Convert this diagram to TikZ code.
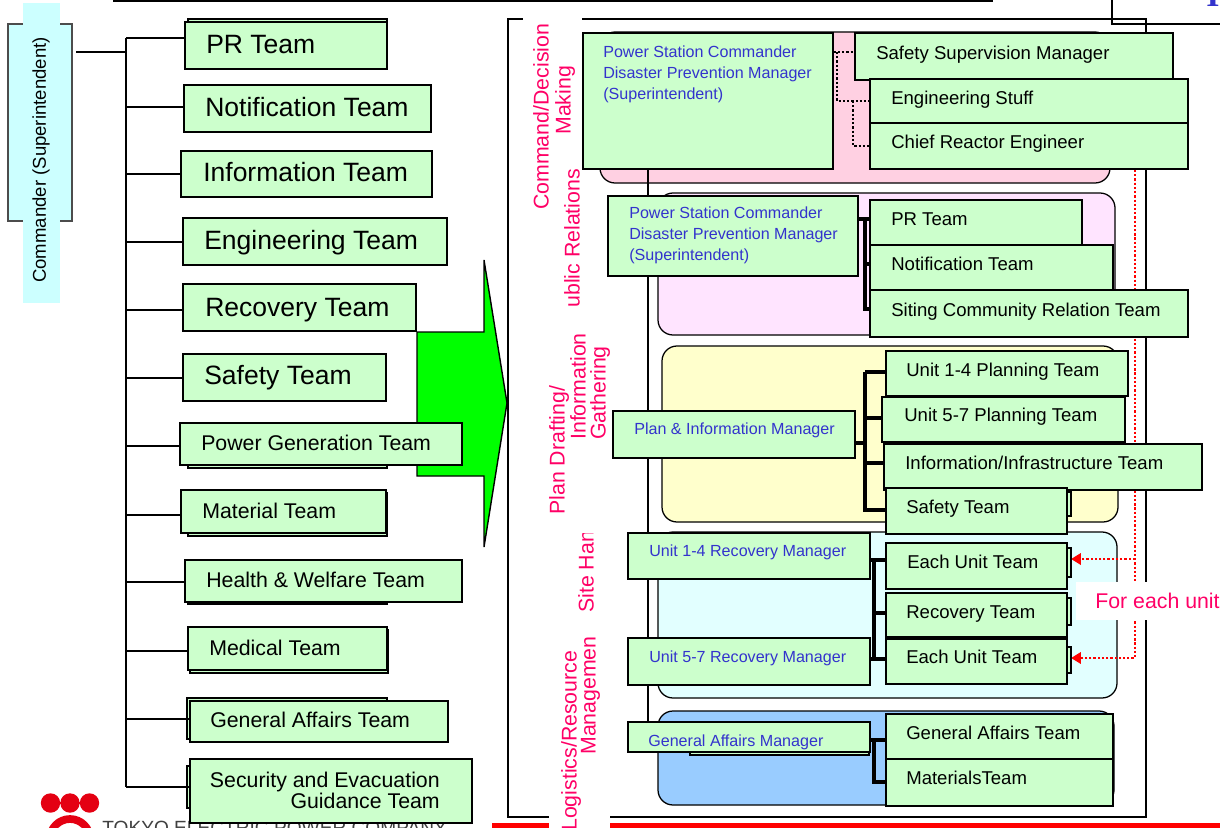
\documentclass[tikz,border=0pt]{standalone}
\usepackage{fontspec}
\setmainfont{Liberation Sans}
\newfontfamily\headfont{Liberation Serif}
\usetikzlibrary{arrows.meta}

\definecolor{teamgreen}{RGB}{204,255,204}
\definecolor{cmdcyan}{RGB}{204,255,255}
\definecolor{mgrblue}{RGB}{51,51,204}
\definecolor{labelpink}{RGB}{255,0,102}
\definecolor{arrowgreen}{RGB}{0,255,0}
\definecolor{regpink}{RGB}{255,208,226}
\definecolor{reglilac}{RGB}{255,228,255}
\definecolor{regyellow}{RGB}{255,255,204}
\definecolor{regcyan}{RGB}{226,255,255}
\definecolor{regblue}{RGB}{153,204,255}
\definecolor{tepcored}{RGB}{228,0,18}

% box from (x1,y1) to (x2,y2), its text starting at (tx,ty)
\newcommand\teambox[9]{%
  \node[team, minimum width={(#5-#3)*0.025cm}, minimum height={(#6-#4)*0.025cm}]
    (#2) at ({(#3+#5)/2},{(#4+#6)/2}) {};
  \node[#1] (#2-t) at (#7,#8) {#9};}

\begin{document}
\begin{tikzpicture}[x=0.025cm, y=-0.025cm,
    team/.style={draw, fill=teamgreen, line width=1.1pt, inner sep=0pt},
    backbox/.style={draw, fill=teamgreen, line width=1.1pt},
    bigtx/.style={inner sep=0pt, anchor=west, text height=13.5pt, text depth=0pt, font=\fontsize{18.85}{22}\selectfont},
    smalltx/.style={inner sep=0pt, anchor=west, text height=10.85pt, text depth=0pt, font=\fontsize{15.15}{18}\selectfont},
    righttx/.style={inner sep=0pt, anchor=west, text height=9.45pt, text depth=0pt, font=\fontsize{13.2}{16}\selectfont},
    mgrtx/.style={inner sep=0pt, anchor=west, text height=8.2pt, text depth=0pt, text=mgrblue, font=\fontsize{11.45}{14.8}\selectfont},
    mgrlines/.style={inner sep=0pt, anchor=north west, align=left, text=mgrblue, font=\fontsize{11.45}{14.8}\selectfont},
    grouplabel/.style={inner sep=0pt, anchor=west, rotate=90, text height=10.85pt, text depth=0pt, text=labelpink, font=\fontsize{15.15}{18}\selectfont},
    tree/.style={line width=1pt},
    bus/.style={line width=2.4pt},
    region/.style={draw, line width=0.9pt, rounded corners=0.375cm},
    dotlink/.style={line width=2pt, dash pattern=on 1.6pt off 1.4pt},
    redlink/.style={draw=red, line width=2pt, dash pattern=on 1.6pt off 1.4pt, -{Triangle[length=7pt, width=8pt]}}]

  \useasboundingbox (0,0) rectangle (1220,827);
  \clip (0,0) rectangle (1220,827);

  % page furniture
  \draw[line width=2.5pt] (113,0) -- (993,0);
  \draw[line width=1pt] (1112,-5) |- (1225,24);
  \node[anchor=base west, inner sep=0pt, text=mgrblue, font=\headfont\bfseries\fontsize{24}{24}\selectfont] (titlecut) at (1206,7) {I};
  \fill[tepcored] (50.5,803) circle (9.7) (70,803) circle (9.7) (89.5,803) circle (9.7);
  \draw[tepcored, line width=5.5pt] (70,839) circle (20);
  \node[anchor=base west, inner sep=0pt, text=black!75, font=\fontsize{13.6}{16}\selectfont] (tepco) at (102,834) {TOKYO ELECTRIC POWER COMPANY};

  % commander
  \node[draw=black!70, fill=cmdcyan, line width=0.8pt, inner sep=0pt, minimum width=1.6cm, minimum height=4.925cm] (cmd) at (40,122.5) {};
  \fill[cmdcyan] (23,3) rectangle (60,303);
  \node[rotate=90, inner sep=0pt, font=\fontsize{13.2}{16}\selectfont] (cmd-t) at (41,160) {Commander (Superintendent)};

  % arrow to the right-hand chart
  \draw[line width=1pt, fill=arrowgreen] (417,332) -- (484,332) -- (484,260) -- (507,403)
    -- (484,547) -- (484,476) -- (417,476) -- cycle;

  % teams on the left
  \draw[backbox] (188,19) rectangle (387,66);
  \teambox{bigtx}{prteam}{185}{22}{387}{69}{206}{44}{PR Team}
  \teambox{bigtx}{notif}{184}{85}{431}{132}{205}{107.5}{Notification Team}
  \teambox{bigtx}{info}{181}{151}{432}{197}{203}{172.5}{Information Team}
  \teambox{bigtx}{eng}{183}{218}{447}{265}{204}{240.5}{Engineering Team}
  \teambox{bigtx}{recov}{183}{284}{416}{331}{205}{307}{Recovery Team}
  \teambox{bigtx}{safety}{183}{354}{386}{401}{204}{375.5}{Safety Team}
  \draw[backbox] (188,426) rectangle (387,468);
  \teambox{smalltx}{powgen}{180}{423}{462}{465}{201}{443}{Power Generation Team}
  \draw[backbox] (188,493) rectangle (387,536);
  \teambox{smalltx}{material}{181}{490}{386}{533}{202}{510.5}{Material Team}
  \draw[backbox] (188,563) rectangle (387,604);
  \teambox{smalltx}{health}{185}{560}{462}{602}{206}{579.5}{Health \& Welfare Team}
  \draw[backbox] (190,630) rectangle (388,673);
  \teambox{smalltx}{medical}{188}{627}{387}{670}{209}{647.5}{Medical Team}
  \draw[backbox] (187,698) rectangle (387,739);
  \teambox{smalltx}{gaffairs}{190}{701}{448}{742}{210}{720}{General Affairs Team}
  \draw[backbox] (187,766) rectangle (400,808);
  \teambox{inner sep=0pt, anchor=north east, align=right, font=\fontsize{15.15}{14.9}\selectfont}{secur}{190}{759}{472}{823}{440}{772}{Security and Evacuation\\Guidance Team}

  \coordinate (cmd-out) at (76,52);
  \coordinate (tk-top) at (126,38);
  \coordinate (tk-bot) at (126,787);
  \draw[tree] (cmd-out) -- (tk-top |- cmd-out);
  \draw[tree] (tk-top) -- (tk-bot);
  \foreach \n/\y in {prteam/38, notif/107, info/174, eng/242, recov/310, safety/378,
      powgen/446, material/515, health/582, medical/651, gaffairs/719, secur/787}
    \draw[tree] (tk-top |- 0,\y) -- (\n.west |- 0,\y);

  % right-hand chart
  \draw[line width=1pt] (508,19) rectangle (1146,817);
  \draw[red, line width=3pt] (492,825.5) -- (1225,825.5);
  \draw[region, fill=regpink] (600,32) rectangle (1110,183);
  \draw[region, fill=reglilac] (658,193) rectangle (1115,335);
  \draw[region, fill=regyellow] (662,346) rectangle (1118,522);
  \draw[region, fill=regcyan] (658,532) rectangle (1117,698);
  \draw[region, fill=regblue] (658,711) rectangle (1114,805);

  \coordinate (rt-top) at (648,169);
  \coordinate (rt-bot) at (648,722);
  \draw[line width=1.5pt] (rt-top) -- (rt-bot);

  \coordinate (red-top) at (1135,170);
  \coordinate (eu1-in) at (1071,559);
  \coordinate (eu2-in) at (1071,658);
  \draw[redlink] (red-top) |- (eu2-in);
  \draw[redlink] (red-top |- eu1-in) -- (eu1-in);
  \node[fill=white, inner sep=0pt, inner xsep=0.475cm, minimum height=0.95cm, anchor=west,
    text height=10.85pt, text depth=0pt, text=labelpink, font=\fontsize{15.15}{18}\selectfont] (eachnote) at (1076,601) {For each unit};

  % command / decision making
  \teambox{mgrlines}{cmdmgr}{583}{33}{833}{169}{603}{46}{Power Station Commander\\Disaster Prevention Manager\\(Superintendent)}
  \teambox{righttx}{ssm}{855}{33}{1173}{80}{876}{53}{Safety Supervision Manager}
  \teambox{righttx}{engstf}{870}{79}{1188}{123}{891}{98}{Engineering Stuff}
  \teambox{righttx}{chief}{870}{123}{1188}{169}{891}{141.5}{Chief Reactor Engineer}
  \coordinate (dotbus1) at (837,52);
  \coordinate (dotbus2) at (853,101);
  \draw[dotlink] (cmdmgr.east |- dotbus1) -- (ssm.west |- dotbus1);
  \draw[dotlink] (dotbus1) |- (engstf.west |- dotbus2);
  \draw[dotlink] (dotbus2) |- (chief.west |- 0,146);

  % public relations
  \teambox{mgrlines}{prmgr}{608}{196}{858}{276}{629}{207}{Power Station Commander\\Disaster Prevention Manager\\(Superintendent)}
  \teambox{righttx}{prt}{870}{200}{1082}{245}{891}{219}{PR Team}
  \teambox{righttx}{notift}{870}{245}{1113}{290}{891}{264}{Notification Team}
  \teambox{righttx}{siting}{870}{290}{1188}{337}{891}{309.7}{Siting Community Relation Team}
  \coordinate (prbus) at (865,219);
  \draw[bus] (prmgr.east |- prbus) -- (prt.west |- prbus);
  \draw[bus] (prbus) |- (siting.west |- 0,309);
  \draw[bus] (prbus |- 0,264) -- (notift.west |- 0,264);

  % plan drafting / information gathering
  \teambox{mgrtx}{planmgr}{613}{411}{855}{458}{634}{428.5}{Plan \& Information Manager}
  \teambox{righttx}{u14p}{886}{351}{1128}{396}{906}{370}{Unit 1-4 Planning Team}
  \teambox{righttx}{u57p}{882}{397}{1125}{442}{904}{414.5}{Unit 5-7 Planning Team}
  \teambox{righttx}{infra}{884}{444}{1202}{490}{905}{462.7}{Information/Infrastructure Team}
  \draw[backbox] (890,492) rectangle (1071,516);
  \teambox{righttx}{safet}{886}{488}{1067}{534}{906}{506.7}{Safety Team}
  \coordinate (planbus) at (865,372);
  \draw[bus] (planbus) -- (u14p.west |- planbus);
  \draw[bus] (planbus) |- (safet.west |- 0,510);
  \draw[bus] (planmgr.east |- 0,443) -- (planbus |- 0,443);
  \draw[bus] (planbus |- 0,418) -- (u57p.west |- 0,418);
  \draw[bus] (planbus |- 0,463) -- (infra.west |- 0,463);

  % site handling
  \teambox{mgrtx}{u14m}{628}{533}{870}{579}{649}{551}{Unit 1-4 Recovery Manager}
  \teambox{mgrtx}{u57m}{628}{638}{870}{685}{649}{657}{Unit 5-7 Recovery Manager}
  \draw[backbox] (890,548) rectangle (1071,577);
  \draw[backbox] (890,598) rectangle (1071,625);
  \draw[backbox] (890,647) rectangle (1071,673);
  \teambox{righttx}{eut1}{886}{543}{1067}{589}{907}{562}{Each Unit Team}
  \teambox{righttx}{rect}{886}{593}{1067}{637}{906}{611.5}{Recovery Team}
  \teambox{righttx}{eut2}{886}{639}{1067}{684}{906}{656.5}{Each Unit Team}
  \coordinate (sitebus) at (874,560);
  \draw[bus] (u14m.east |- sitebus) -- (eut1.west |- sitebus);
  \draw[bus] (sitebus) |- (eut2.west |- 0,659);
  \draw[bus] (u57m.east |- 0,659) -- (sitebus |- 0,659);
  \draw[bus] (sitebus |- 0,613) -- (rect.west |- 0,613);

  % logistics / resource management
  \draw[backbox] (690,726) rectangle (869,755);
  \teambox{mgrtx}{gamgr}{628}{722}{870}{752}{648}{740.5}{General Affairs Manager}
  \teambox{righttx}{gateam}{886}{714}{1113}{759}{906}{732.5}{General Affairs Team}
  \teambox{righttx}{matteam}{886}{759}{1113}{806}{906}{778.3}{MaterialsTeam}
  \coordinate (logbus) at (874,740);
  \draw[bus] (gamgr.east |- logbus) -- (gateam.west |- logbus);
  \draw[bus] (logbus) |- (matteam.west |- 0,782);

  % group labels
  \fill[white] (523,5) rectangle (582,190);
  \node[grouplabel] (cmdlabel) at (541,210) {Command/Decision};
  \node[grouplabel] (cmdlabel2) at (563,135) {Making};
  \node[grouplabel] (prlabel) at (572,322) {Public Relations};
  \fill[white] (549,637) rectangle (610,840);
  \node[grouplabel] (loglabel) at (569,831) {Logistics/Resource};
  \node[grouplabel] (loglabel2) at (588,755) {Management};
  \fill[white] (560,533) rectangle (612,637);
  \node[grouplabel] (sitelabel) at (586,613) {Site Handling};
  \fill[white] (545,307) rectangle (612,533);
  \node[grouplabel] (planlabel) at (557,515) {Plan Drafting/};
  \node[grouplabel] (planlabel2) at (578,440) {Information};
  \node[grouplabel] (planlabel3) at (598,440) {Gathering};
\end{tikzpicture}
\end{document}
